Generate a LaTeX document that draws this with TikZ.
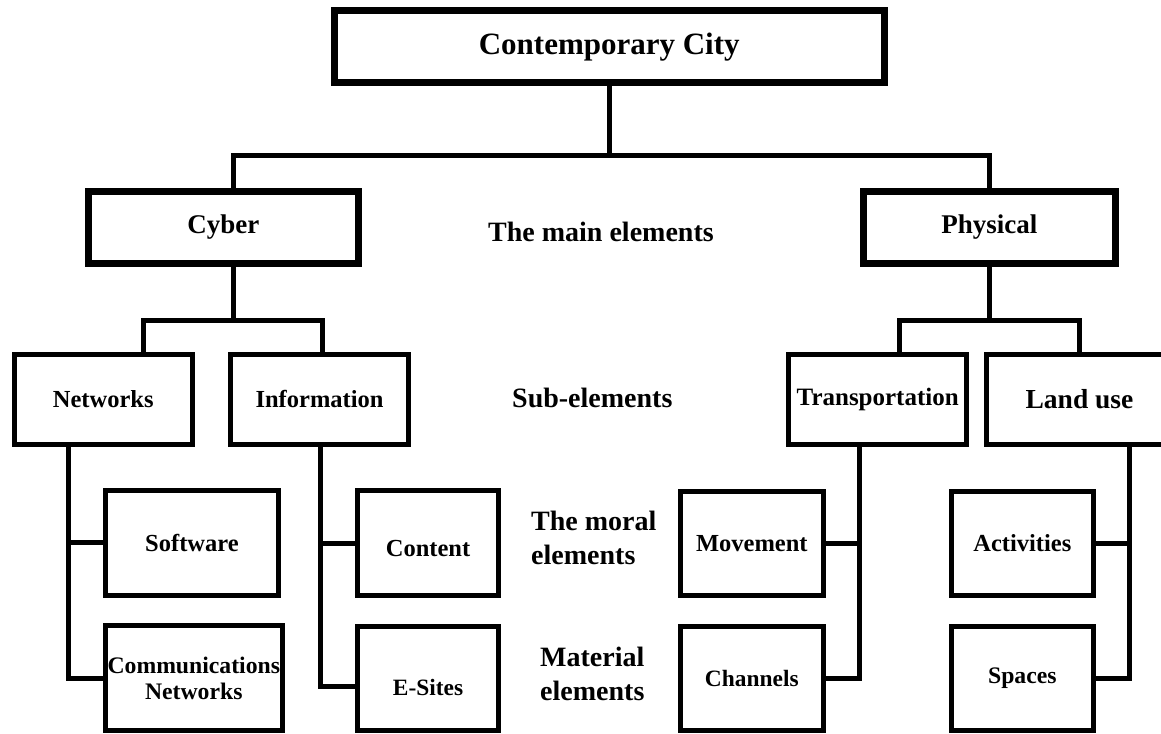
\documentclass[tikz,border=0pt]{standalone}
\usepackage{fontspec}
\setmainfont{Liberation Serif}
\begin{document}
\begin{tikzpicture}[x=1pt,y=-1pt,
  boxbase/.style={draw=black, rectangle, inner sep=0pt, outer sep=0pt, align=center},
  mainbox/.style={boxbase, line width=7pt, font=\bfseries\fontsize{27}{30}\selectfont},
  subbox/.style={boxbase, line width=5pt, font=\bfseries\fontsize{24.5}{26}\selectfont},
  conn/.style={line width=5pt, line join=miter},
  rowlab/.style={anchor=base west, align=left, inner sep=0pt, font=\bfseries\fontsize{28}{33.3}\selectfont}]
\useasboundingbox (0,0) rectangle (1161,733);
\clip (0,0) rectangle (1161,733);
\fill[white] (0,0) rectangle (1161,733);

% main boxes
\node[mainbox, minimum width=549.5pt, minimum height=72.2pt, font=\bfseries\fontsize{31}{34}\selectfont] (title) at (609.25,46.9) {Contemporary City};
\node[mainbox, minimum width=269.6pt, minimum height=72pt] (cyber) at (223.3,227.5) {Cyber};
\node[mainbox, minimum width=252.3pt, minimum height=72pt] (phys) at (989.35,227.5) {Physical};

% sub-element boxes
\node[subbox, minimum width=178.5pt, minimum height=89.7pt] (net) at (103.25,399.35) {Networks};
\node[subbox, minimum width=178.7pt, minimum height=89.7pt] (info) at (319.55,399.35) {Information};
\node[subbox, minimum width=177.6pt, minimum height=89.7pt, font=\bfseries\fontsize{25}{27}\selectfont] (trans) at (877.7,399.35) {Transportation};
\node[subbox, minimum width=186pt, minimum height=89.7pt, font=\bfseries\fontsize{27.5}{30}\selectfont] (land) at (1079.5,399.35) {Land use};

% moral elements
\node[subbox, minimum width=173.7pt, minimum height=104.7pt] (soft) at (191.95,542.85) {Software};
\node[subbox, minimum width=141pt, minimum height=105pt, text height=26pt, text depth=0pt] (content) at (428,543) {Content};
\node[subbox, minimum width=142.6pt, minimum height=103.7pt] (move) at (751.8,543.35) {Movement};
\node[subbox, minimum width=142.4pt, minimum height=104pt] (act) at (1022.3,543.5) {Activities};

% material elements
\node[subbox, minimum width=177.4pt, minimum height=105pt, font=\bfseries\fontsize{23.7}{26}\selectfont] (comm) at (193.8,678) {Communications\\Networks};
\node[subbox, minimum width=141pt, minimum height=104pt, text height=34pt, text depth=0pt, font=\bfseries\fontsize{23.4}{26}\selectfont] (esites) at (428,678.5) {E-Sites};
\node[subbox, minimum width=142.6pt, minimum height=104pt, font=\bfseries\fontsize{23.4}{26}\selectfont] (chan) at (751.8,678.5) {Channels};
\node[subbox, minimum width=142.4pt, minimum height=104pt, font=\bfseries\fontsize{23.7}{26}\selectfont] (spaces) at (1022.3,678.5) {Spaces};

% row labels
\node[rowlab] (lmain) at (488,241.7) {The main elements};
\node[rowlab] (lsub) at (512,407) {Sub-elements};
\node[rowlab] (lmoral) at (531,564) {The moral\\elements};
\node[rowlab] (lmat) at (540,700) {Material\\elements};

% junction coordinates
\coordinate (bA) at (233,155.5);
\coordinate (bB) at (989.35,155.5);
\coordinate (cv) at (233,320.5);
\coordinate (cb) at (143.5,320.5);
\coordinate (cc) at (322.6,320.5);
\coordinate (pv) at (989.35,320.5);
\coordinate (pb) at (899.4,320.5);
\coordinate (pc) at (1079,320.5);
\coordinate (nx) at (68,0);
\coordinate (ix) at (320.7,0);
\coordinate (ie) at (320.7,686);
\coordinate (tx) at (859.7,0);
\coordinate (lx) at (1129.5,0);

% connectors
\draw[conn] (title.south) -- (title.south |- bA);
\draw[conn] (cyber.north -| bA) -- (bA) -- (bB) -- (phys.north -| bB);
\draw[conn] (cyber.south -| cv) -- (cv);
\draw[conn] (net.north -| cb) -- (cb) -- (cc) -- (info.north -| cc);
\draw[conn] (phys.south) -- (pv);
\draw[conn] (trans.north -| pb) -- (pb) -- (pc) -- (land.north -| pc);

\draw[conn] (net.south -| nx) |- (comm.west);
\draw[conn] (soft.west -| nx) -- (soft.west);
\draw[conn] (info.south -| ix) -- (ie) -- (esites.west |- ie);
\draw[conn] (content.west -| ix) -- (content.west);
\draw[conn] (trans.south -| tx) |- (chan.east);
\draw[conn] (move.east -| tx) -- (move.east);
\draw[conn] (land.south -| lx) |- (spaces.east);
\draw[conn] (act.east -| lx) -- (act.east);
\end{tikzpicture}
\end{document}
